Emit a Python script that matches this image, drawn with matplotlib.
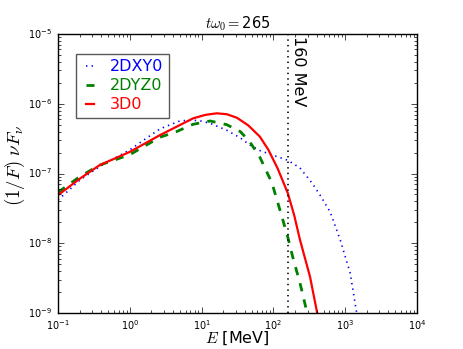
import numpy as np
import matplotlib
matplotlib.use('Agg')
import matplotlib.pyplot as plt

# values (log10 of E [MeV] and of (1/F) nu F_nu)
logE_2dxy0 = [-1.0, -0.69, -0.42, 0.0, 0.42, 0.70, 0.88, 1.0, 1.12, 1.35, 1.54, 1.67,
              1.81, 2.0, 2.20, 2.37, 2.54, 2.65, 2.79, 2.93, 3.07, 3.16, 3.2]
logF_2dxy0 = [-7.38, -7.09, -6.90, -6.66, -6.36, -6.245, -6.235, -6.25, -6.28, -6.38, -6.49, -6.59,
              -6.67, -6.74, -6.81, -6.92, -7.14, -7.31, -7.55, -7.95, -8.43, -9.0, -9.3]

logE_2dyz0 = [-1.0, -0.69, -0.42, 0.0, 0.42, 0.65, 0.88, 1.12, 1.35, 1.54, 1.67, 1.81,
              1.98, 2.12, 2.20, 2.27, 2.37, 2.47, 2.5]
logF_2dyz0 = [-7.27, -7.04, -6.88, -6.73, -6.48, -6.40, -6.295, -6.247, -6.30, -6.40, -6.544, -6.763,
              -7.136, -7.624, -7.91, -8.20, -8.57, -9.0, -9.2]

logE_3d0 = [-1.0, -0.69, -0.42, 0.0, 0.42, 0.65, 0.88, 1.05, 1.21, 1.35, 1.49, 1.65,
            1.81, 1.93, 2.06, 2.20, 2.29, 2.37, 2.51, 2.61, 2.65]
logF_3d0 = [-7.31, -7.07, -6.88, -6.69, -6.45, -6.33, -6.21, -6.16, -6.137, -6.15, -6.20, -6.31,
            -6.47, -6.66, -6.93, -7.28, -7.60, -7.95, -8.48, -9.0, -9.2]

E_cut = 160.0  # MeV
t_omega = 265

plt.style.use('classic')
plt.rcParams['mathtext.fontset'] = 'cm'

fig = plt.figure(figsize=(4.63, 3.49), dpi=100, facecolor='white')
ax = fig.add_axes([58 / 463, 1 - 313 / 349, 359 / 463, 279 / 349])

ax.plot(10 ** np.array(logE_2dxy0), 10 ** np.array(logF_2dxy0), color='blue', ls=':', lw=1.2, label='2DXY0')
ax.plot(10 ** np.array(logE_2dyz0), 10 ** np.array(logF_2dyz0), color='green', ls='--', lw=2, label='2DYZ0')
ax.plot(10 ** np.array(logE_3d0), 10 ** np.array(logF_3d0), color='red', ls='-', lw=1.6, label='3D0')

ax.axvline(E_cut, color='black', ls=':', lw=1.2)
ax.text(E_cut * 1.1, 9.4e-6, '%d MeV' % E_cut, rotation=270, va='top', ha='left', fontsize=11.5)

ax.set_xscale('log')
ax.set_yscale('log')
ax.set_xlim(1e-1, 1e4)
ax.set_ylim(1e-9, 1e-5)
ax.tick_params(labelsize=7, pad=4)

ax.set_xlabel(r'$E$ [MeV]', fontsize=11.5)
ax.xaxis.set_label_coords(0.5, -0.058)
ax.set_ylabel(r'$(1/F)\ \nu F_\nu$', fontsize=13.5)
ax.yaxis.set_label_coords(-0.085, 0.53)
ax.set_title(r'$t\omega_0=$%d' % t_omega, fontsize=10.5, pad=4)

leg = ax.legend(loc='upper left', bbox_to_anchor=(0.05, 0.93), fontsize=11.5,
                handlelength=1.1, handletextpad=0.7, borderpad=0.35, labelspacing=0.25,
                fancybox=False, borderaxespad=0)
leg.get_frame().set_edgecolor('0.35')
for txt, line in zip(leg.get_texts(), leg.get_lines()):
    txt.set_color(line.get_color())

fig.savefig('out.png', dpi=100)
